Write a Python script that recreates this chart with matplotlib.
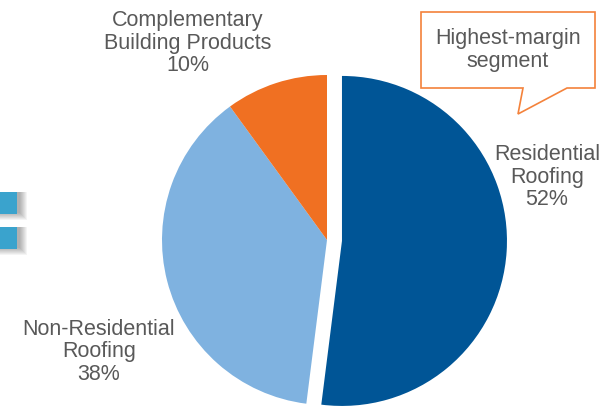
import matplotlib.pyplot as plt
from matplotlib.patches import Polygon, Rectangle

# Segment split (% of sales)
segments = ["Residential\nRoofing", "Non-Residential\nRoofing", "Complementary\nBuilding Products"]
shares = [52, 38, 10]
colors = ["#005596", "#7FB2E0", "#F07022"]

# label anchor points in pixel space (x, y from top)
label_pos = [(547, 177), (99, 352), (188, 43)]

plt.rcParams['font.family'] = ['Liberation Sans', 'DejaVu Sans']
text_gray = "#595959"

W, H = 604, 407
fig = plt.figure(figsize=(W / 100, H / 100), dpi=100)
ax = fig.add_axes([0, 0, 1, 1])

def fy(y):
    return H - y

# pie works in data units here, so the pull-out is given in pixels
ax.pie(shares, colors=colors, explode=[15, 0, 0], startangle=90, counterclock=False,
       center=(327, fy(240)), radius=165, frame=True,
       wedgeprops=dict(linewidth=0))
ax.set_xlim(0, W)
ax.set_ylim(0, H)
ax.set_aspect('equal')
ax.axis('off')

for name, val, (x, y) in zip(segments, shares, label_pos):
    ax.text(x, fy(y), f"{name}\n{val}%", ha='center', va='center', fontsize=15.5,
            color=text_gray, linespacing=1.1)

# callout box with tail
callout = [(421, 12), (595, 12), (595, 88), (567, 88), (518, 114), (523, 88), (421, 88)]
ax.add_patch(Polygon([(x, fy(y)) for x, y in callout], closed=True,
                     facecolor='white', edgecolor='#F4823B', linewidth=1.2, zorder=5))
ax.text(508, fy(50), "Highest-margin\nsegment", ha='center', va='center', fontsize=15.5,
        color=text_gray, linespacing=1.15, zorder=6)

# bullet squares at the left edge, with soft shadow
for top in (192, 227):
    for k in range(8):
        off = 8 - k
        ax.add_patch(Rectangle((-6, fy(top + 20 + off)), 25 + off, 20 + off,
                               facecolor='black', alpha=0.045, linewidth=0, zorder=2))
    ax.add_patch(Rectangle((-6, fy(top + 22)), 23, 22, facecolor='#3AA3CD',
                           linewidth=0, zorder=3))

fig.savefig("out.png", dpi=100)
